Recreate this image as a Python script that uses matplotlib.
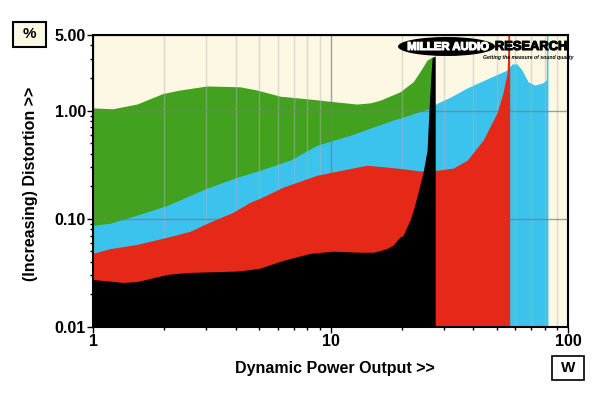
import matplotlib
matplotlib.use("Agg")
import matplotlib.pyplot as plt
import matplotlib.patheffects as pe
from matplotlib.patches import Ellipse, Rectangle
from matplotlib.ticker import FixedLocator, NullFormatter

plt.rcParams['font.family'] = ['Liberation Sans', 'DejaVu Sans']

# power (W) and distortion (%), one series per band
green_w = [1.0, 1.21, 1.53, 1.97, 2.32, 3.02, 4.16, 4.90, 6.13, 8.44, 9.95, 12.9, 14.7,
           16.2, 19.6, 22.3, 23.8, 25.5, 26.8, 27.2]
green_d = [1.06, 1.04, 1.15, 1.44, 1.55, 1.69, 1.66, 1.55, 1.36, 1.27, 1.22, 1.15, 1.18,
           1.25, 1.49, 1.85, 2.29, 2.93, 3.13, 3.1]

blue_w = [1.0, 1.18, 1.53, 2.05, 3.02, 4.04, 5.05, 6.75, 8.78, 12.1, 18.3, 19.6, 23.8, 26.2,
          28.1, 31.9, 37.6, 43.9, 51.7, 55.4, 58.1, 61.0, 64.0, 67.9, 72.6, 78.5, 81.0, 81.2, 82.3]
blue_d = [0.087, 0.091, 0.108, 0.133, 0.192, 0.242, 0.281, 0.348, 0.479, 0.593, 0.817, 0.852,
          0.98, 1.05, 1.17, 1.33, 1.62, 1.89, 2.22, 2.37, 2.70, 2.70, 2.37, 1.85, 1.72, 1.81,
          1.92, 5.0, 5.0]

red_w = [1.0, 1.18, 1.53, 2.05, 2.56, 3.02, 3.89, 4.58, 5.05, 6.31, 8.78, 14.2, 19.1, 23.8,
         28.1, 32.8, 37.6, 43.9, 50.2, 53.2, 55.4, 55.7, 55.8, 56.8]
red_d = [0.048, 0.053, 0.058, 0.0675, 0.0766, 0.0909, 0.115, 0.142, 0.155, 0.196, 0.253,
         0.313, 0.294, 0.277, 0.281, 0.294, 0.348, 0.533, 0.95, 1.45, 2.22, 3.4, 5.0, 5.0]

black_w = [1.0, 1.34, 1.53, 2.05, 2.49, 4.04, 4.58, 5.05, 6.31, 8.20, 10.2, 13.3, 15.1, 16.2,
           17.3, 18.3, 19.6, 20.2, 21.6, 22.3, 23.1, 24.5, 25.5, 26.0, 26.5, 26.8, 27.6]
black_d = [0.0275, 0.0258, 0.0263, 0.0306, 0.0319, 0.0329, 0.0339, 0.035, 0.0413, 0.0479,
           0.0502, 0.0491, 0.0491, 0.0509, 0.0533, 0.0568, 0.0678, 0.0703, 0.0969, 0.120,
           0.159, 0.264, 0.431, 1.05, 2.2, 3.1, 3.2]

y_ticks = [0.01, 0.1, 1.0, 5.0]
y_labels = ["0.01", "0.10", "1.00", "5.00"]
x_ticks = [1, 10, 100]
x_labels = ["1", "10", "100"]

cream = "#fdf8e4"
fig = plt.figure(figsize=(6, 3.93), dpi=100)
ax = fig.add_axes([93 / 600, 1 - 327 / 393, 475 / 600, 292 / 393])
ax.set_facecolor(cream)
ax.set_xscale("log")
ax.set_yscale("log")
ax.set_xlim(1, 100)
ax.set_ylim(0.01, 5.0)

ax.fill_between(green_w, 0.01, green_d, color="#42a11e", lw=0, zorder=1)
ax.fill_between(blue_w, 0.01, blue_d, color="#3bc3ee", lw=0, zorder=2)
ax.fill_between(red_w, 0.01, red_d, color="#e52817", lw=0, zorder=3)
ax.fill_between(black_w, 0.01, black_d, color="#000000", lw=0, zorder=4)

# grid on top of the fills
ax.set_axisbelow(False)
ax.grid(which="minor", axis="x", color="#b4b4b4", alpha=0.45, lw=1, zorder=5)
ax.grid(which="major", axis="both", color="#7a7a7a", alpha=0.7, lw=1, zorder=5)

ax.yaxis.set_major_locator(FixedLocator(y_ticks))
ax.set_yticklabels(y_labels)
ax.yaxis.set_minor_locator(FixedLocator(
    [v * m for v in (0.01, 0.1) for m in range(2, 10)] + [2, 3, 4]))
ax.yaxis.set_minor_formatter(NullFormatter())
ax.xaxis.set_major_locator(FixedLocator(x_ticks))
ax.set_xticklabels(x_labels)
ax.xaxis.set_minor_formatter(NullFormatter())
ax.tick_params(which="major", direction="out", length=4, width=1, pad=1,
               labelsize=11.5)
ax.tick_params(which="minor", direction="out", length=2, width=1)
for lab in ax.get_xticklabels() + ax.get_yticklabels():
    lab.set_fontweight("bold")
for s in ax.spines.values():
    s.set_linewidth(1.5)
    s.set_zorder(10)

fig.text(335 / 600, 1 - 368 / 393, "Dynamic Power Output >>", ha="center", va="center",
         fontsize=11.5, fontweight="bold")
fig.text(31 / 600, 1 - 184 / 393, "(Increasing) Distortion >>", ha="center", va="center",
         rotation=90, fontsize=11.5, fontweight="bold")

# unit boxes
fig.add_artist(Rectangle((13 / 600, 1 - 47 / 393), 33 / 600, 25 / 393,
                         transform=fig.transFigure, fc=cream, ec="black", lw=1.5))
fig.text(29.5 / 600, 1 - 34.5 / 393, "%", ha="center", va="center", fontsize=11,
         fontweight="bold")
fig.add_artist(Rectangle((552 / 600, 1 - 380 / 393), 32 / 600, 24 / 393,
                         transform=fig.transFigure, fc="white", ec="black", lw=1.2))
fig.text(568 / 600, 1 - 368 / 393, "W", ha="center", va="center", fontsize=11,
         fontweight="bold")

# logo
ell = Ellipse((446.5 / 600, 1 - 46.5 / 393), 97 / 600, 19 / 393, transform=fig.transFigure,
              fc="black", ec="none", zorder=20)
fig.add_artist(ell)
fig.text(448 / 600, 1 - 47 / 393, "MILLER AUDIO", ha="center", va="center", fontsize=8.2,
         fontweight="heavy", color="white", zorder=21,
         path_effects=[pe.withStroke(linewidth=0.8, foreground="white")])
fig.text(531 / 600, 1 - 47 / 393, "RESEARCH", ha="center", va="center", fontsize=9.3,
         fontweight="heavy", color="black", zorder=21,
         path_effects=[pe.withStroke(linewidth=0.8, foreground="black")])
fig.text(528 / 600, 1 - 57 / 393, "Getting the measure of sound quality", ha="center",
         va="center", fontsize=3.7, fontweight="bold", style="italic", color="black",
         zorder=21)

fig.savefig("out.png", dpi=100)
